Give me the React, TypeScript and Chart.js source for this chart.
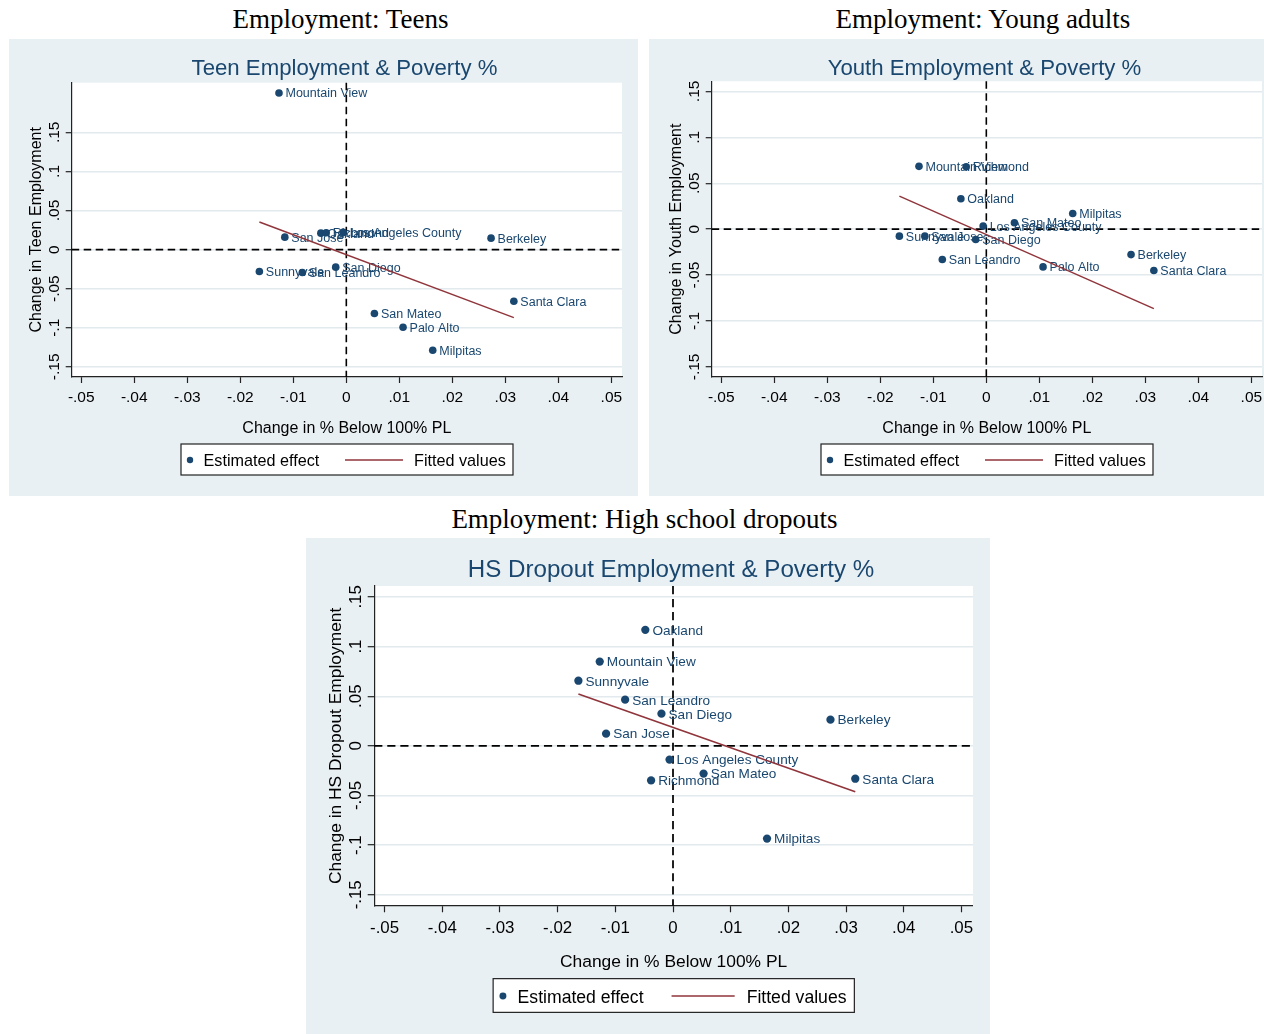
import React, { useEffect, useRef } from "react";
import { Chart, registerables } from "chart.js";
Chart.register(...registerables);

// ---------- data ----------
const cities = [
  "Mountain View", "Sunnyvale", "San Jose", "San Leandro", "Oakland", "Richmond", "San Diego",
  "Los Angeles County", "San Mateo", "Palo Alto", "Milpitas", "Berkeley", "Santa Clara",
];
const povertyChange = [
  -0.0127, -0.0164, -0.0116, -0.0083, -0.0048, -0.0038, -0.002,
  -0.0006, 0.0053, 0.0107, 0.0163, 0.0273, 0.0316,
];
const teenEmployment = [
  0.2004, -0.0281, 0.0159, -0.0294, 0.021, 0.0215, -0.0225,
  0.022, -0.0818, -0.0993, -0.1287, 0.0146, -0.066,
];
const youthEmployment = [
  0.0684, -0.0076, -0.0076, -0.0331, 0.0331, 0.068, -0.0113,
  0.0033, 0.0069, -0.0411, 0.0171, -0.0277, -0.0451,
];
const dropoutEmployment: (number | null)[] = [
  0.0849, 0.0656, 0.0123, 0.0465, 0.1168, -0.0348, 0.0324,
  -0.0138, -0.0279, null, -0.0934, 0.0264, -0.0331,
];
const fitX = [-0.0164, 0.0316];
const teenFit = [0.0352, -0.087];
const youthFit = [0.036, -0.0866];
const dropoutFit = [0.0522, -0.0462];

const xTicks = [-0.05, -0.04, -0.03, -0.02, -0.01, 0, 0.01, 0.02, 0.03, 0.04, 0.05];
const xTickLabels = ["-.05", "-.04", "-.03", "-.02", "-.01", "0", ".01", ".02", ".03", ".04", ".05"];
const yTicks = [-0.15, -0.1, -0.05, 0, 0.05, 0.1, 0.15];
const yTickLabels = ["-.15", "-.1", "-.05", "0", ".05", ".1", ".15"];

const xTitle = "Change in % Below 100% PL";
const legendLabels = ["Estimated effect", "Fitted values"];

// ---------- styles ----------
const SANS = '"Liberation Sans", Arial, Helvetica, sans-serif';
const SERIF = '"Liberation Serif", "Times New Roman", serif';
const NAVY = "#1A476F";
const MAROON = "#90353B";
const BG = "#E9F0F3";
const GRID = "#E2EAED";
const AXIS = "#222222";

type PanelCfg = {
  left: number;
  top: number;
  s: number;
  plotTop: number;
  title: string;
  yTitle: string;
  ys: (number | null)[];
  fit: number[];
  yMin: number;
  yMax: number;
};

const panels: PanelCfg[] = [
  {
    left: 9, top: 39, s: 1, plotTop: 43.7,
    title: "Teen Employment & Poverty %", yTitle: "Change in Teen Employment",
    ys: teenEmployment, fit: teenFit, yMin: -0.163, yMax: 0.2135,
  },
  {
    left: 649, top: 39, s: 1, plotTop: 42.3,
    title: "Youth Employment & Poverty %", yTitle: "Change in Youth Employment",
    ys: youthEmployment, fit: youthFit, yMin: -0.161, yMax: 0.161,
  },
  {
    left: 306, top: 538, s: 1.088, plotTop: 44.1,
    title: "HS Dropout Employment & Poverty %", yTitle: "Change in HS Dropout Employment",
    ys: dropoutEmployment, fit: dropoutFit, yMin: -0.161, yMax: 0.161,
  },
];

const outerTitles = [
  { text: "Employment: Teens", cx: 340.5, cy: 19 },
  { text: "Employment: Young adults", cx: 983, cy: 19 },
  { text: "Employment: High school dropouts", cx: 644.5, cy: 519 },
];

const BASE_W = 629;
const BASE_H = 457;
const PLOT_L = 62.7;
const PLOT_R = 613;
const PLOT_B = 338;

function Panel({ cfg }: { cfg: PanelCfg }) {
  const ref = useRef<HTMLCanvasElement>(null);
  const s = cfg.s;
  const W = Math.round(BASE_W * s);
  const H = Math.round(BASE_H * s);

  useEffect(() => {
    const canvas = ref.current;
    if (!canvas) return;
    const names: string[] = [];
    const pts: { x: number; y: number }[] = [];
    povertyChange.forEach((x, i) => {
      const y = cfg.ys[i];
      if (y !== null && y !== undefined) {
        pts.push({ x, y });
        names.push(cities[i]);
      }
    });
    const fitPts = fitX.map((x, i) => ({ x, y: cfg.fit[i] }));

    const plugin = {
      id: "stataPanel",
      beforeDraw(chart: any) {
        const { ctx, chartArea: a } = chart;
        ctx.save();
        ctx.fillStyle = "#ffffff";
        ctx.fillRect(a.left, a.top, a.right - a.left, a.bottom - a.top);
        ctx.restore();
      },
      beforeDatasetsDraw(chart: any) {
        const { ctx, chartArea: a, scales } = chart;
        const x0 = scales.x.getPixelForValue(0);
        const y0 = scales.y.getPixelForValue(0);
        ctx.save();
        ctx.strokeStyle = "#000";
        ctx.lineWidth = 1.6 * s;
        ctx.setLineDash([7.5 * s, 4.5 * s]);
        ctx.beginPath();
        ctx.moveTo(a.left, y0);
        ctx.lineTo(a.right, y0);
        ctx.stroke();
        ctx.beginPath();
        ctx.moveTo(x0, a.top);
        ctx.lineTo(x0, a.bottom);
        ctx.stroke();
        ctx.restore();
      },
      afterDatasetDraw(chart: any, args: any) {
        if (args.index !== 0) return;
        const { ctx } = chart;
        const meta = chart.getDatasetMeta(0);
        ctx.save();
        ctx.font = `${12.5 * s}px ${SANS}`;
        ctx.fillStyle = NAVY;
        ctx.textAlign = "left";
        ctx.textBaseline = "middle";
        meta.data.forEach((el: any, i: number) => {
          ctx.fillText(names[i], el.x + 6.5 * s, el.y + 1 * s);
        });
        ctx.restore();
      },
      afterDraw(chart: any) {
        const { ctx, chartArea: a, scales } = chart;
        ctx.save();
        // inner title
        ctx.fillStyle = NAVY;
        ctx.font = `${22.2 * s}px ${SANS}`;
        ctx.textAlign = "center";
        ctx.textBaseline = "middle";
        ctx.fillText(cfg.title, 335.5 * s, 30 * s);

        // x tick labels
        ctx.fillStyle = "#000";
        ctx.font = `${15.5 * s}px ${SANS}`;
        xTicks.forEach((v, i) => {
          ctx.fillText(xTickLabels[i], scales.x.getPixelForValue(v), 359 * s);
        });
        // y tick labels (rotated)
        yTicks.forEach((v, i) => {
          ctx.save();
          ctx.translate(46 * s, scales.y.getPixelForValue(v));
          ctx.rotate(-Math.PI / 2);
          ctx.fillText(yTickLabels[i], 0, 0);
          ctx.restore();
        });
        // axis titles
        ctx.font = `${16 * s}px ${SANS}`;
        ctx.fillText(xTitle, (a.left + a.right) / 2, 389.5 * s);
        ctx.save();
        ctx.translate(27.5 * s, (a.top + a.bottom) / 2);
        ctx.rotate(-Math.PI / 2);
        ctx.fillText(cfg.yTitle, 0, 0);
        ctx.restore();

        // legend
        const lx0 = 172 * s, lx1 = 504 * s, ly0 = 405 * s, ly1 = 436 * s;
        ctx.fillStyle = "#fff";
        ctx.fillRect(lx0, ly0, lx1 - lx0, ly1 - ly0);
        ctx.strokeStyle = AXIS;
        ctx.lineWidth = 1.2;
        ctx.strokeRect(lx0, ly0, lx1 - lx0, ly1 - ly0);
        const lyc = 421 * s;
        ctx.fillStyle = NAVY;
        ctx.beginPath();
        ctx.arc(181 * s, lyc, 3.2 * s, 0, Math.PI * 2);
        ctx.fill();
        ctx.strokeStyle = MAROON;
        ctx.lineWidth = 1.5 * s;
        ctx.beginPath();
        ctx.moveTo(336 * s, lyc);
        ctx.lineTo(394 * s, lyc);
        ctx.stroke();
        ctx.fillStyle = "#000";
        ctx.font = `${16.2 * s}px ${SANS}`;
        ctx.textAlign = "left";
        ctx.fillText(chart.data.datasets[0].label, 194.5 * s, lyc + 1.5 * s);
        ctx.fillText(chart.data.datasets[1].label, 405 * s, lyc + 1.5 * s);
        ctx.restore();
      },
    };

    const chart = new Chart(canvas, {
      type: "scatter",
      data: {
        datasets: [
          {
            label: legendLabels[0],
            data: pts,
            backgroundColor: NAVY,
            borderWidth: 0,
            pointRadius: 3.8 * s,
            pointHoverRadius: 3.8 * s,
            order: 2,
          },
          {
            label: legendLabels[1],
            data: fitPts,
            showLine: true,
            borderColor: MAROON,
            borderWidth: 1.5 * s,
            pointRadius: 0,
            pointHoverRadius: 0,
            order: 1,
          } as any,
        ],
      },
      options: {
        animation: false,
        responsive: false,
        devicePixelRatio: 1,
        events: [],
        layout: {
          padding: {
            left: PLOT_L * s - 6 * s,
            top: cfg.plotTop * s,
            right: W - PLOT_R * s,
            bottom: H - PLOT_B * s - 6 * s,
          },
        },
        plugins: {
          legend: { display: false },
          title: { display: false },
          tooltip: { enabled: false },
        },
        scales: {
          x: {
            type: "linear",
            min: -0.0518,
            max: 0.052,
            afterBuildTicks: (sc: any) => {
              sc.ticks = xTicks.map((v) => ({ value: v }));
            },
            afterFit: (sc: any) => {
              sc.height = 6 * s;
            },
            ticks: { display: false },
            grid: {
              display: true,
              drawOnChartArea: false,
              drawTicks: true,
              tickLength: 6 * s,
              tickColor: AXIS,
              tickWidth: 1.2,
            },
            border: { display: true, color: AXIS, width: 1.2 },
          },
          y: {
            type: "linear",
            min: cfg.yMin,
            max: cfg.yMax,
            afterBuildTicks: (sc: any) => {
              sc.ticks = yTicks.map((v) => ({ value: v }));
            },
            afterFit: (sc: any) => {
              sc.width = 6 * s;
            },
            ticks: { display: false },
            grid: {
              display: true,
              drawOnChartArea: true,
              color: GRID,
              lineWidth: 1.4,
              drawTicks: true,
              tickLength: 6 * s,
              tickColor: AXIS,
              tickWidth: 1.2,
            },
            border: { display: true, color: AXIS, width: 1.2 },
          },
        },
      },
      plugins: [plugin],
    } as any);
    return () => chart.destroy();
  }, []);

  return (
    <div
      style={{
        position: "absolute",
        left: cfg.left,
        top: cfg.top,
        width: W,
        height: H,
        background: BG,
      }}
    >
      <canvas ref={ref} width={W} height={H} style={{ width: W, height: H, display: "block" }} />
    </div>
  );
}

export default function App() {
  return (
    <div
      style={{
        position: "absolute",
        left: 0,
        top: 0,
        width: 1264,
        height: 1034,
        overflow: "hidden",
        background: "#ffffff",
      }}
    >
      {outerTitles.map((t) => (
        <div
          key={t.text}
          style={{
            position: "absolute",
            left: t.cx - 400,
            top: t.cy - 15,
            width: 800,
            height: 30,
            lineHeight: "30px",
            textAlign: "center",
            fontFamily: SERIF,
            fontSize: 27,
            color: "#000",
            whiteSpace: "nowrap",
          }}
        >
          {t.text}
        </div>
      ))}
      {panels.map((p) => (
        <Panel key={p.title} cfg={p} />
      ))}
    </div>
  );
}
